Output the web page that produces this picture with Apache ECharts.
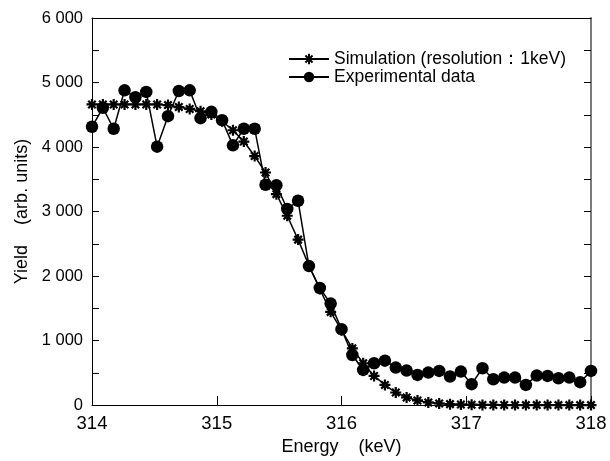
<!DOCTYPE html>
<html>
<head>
<meta charset="utf-8">
<script src="https://cdn.jsdelivr.net/npm/echarts@6/dist/echarts.min.js"></script>
<style>
html,body{margin:0;padding:0;background:#fff;}
#chart{width:610px;height:461px;}
</style>
</head>
<body>
<div id="chart"></div>
<script>
var energies = [314.000, 314.087, 314.174, 314.261, 314.348, 314.435, 314.522, 314.609, 314.696, 314.783,
  314.870, 314.957, 315.043, 315.130, 315.217, 315.304, 315.391, 315.478, 315.565, 315.652,
  315.739, 315.826, 315.913, 316.000, 316.087, 316.174, 316.261, 316.348, 316.435, 316.522,
  316.609, 316.696, 316.783, 316.870, 316.957, 317.043, 317.130, 317.217, 317.304, 317.391,
  317.478, 317.565, 317.652, 317.739, 317.826, 317.913, 318.000];

var simulation = [4660, 4660, 4660, 4660, 4660, 4660, 4660, 4650, 4620, 4590,
  4555, 4505, 4400, 4260, 4085, 3860, 3605, 3270, 2935, 2565,
  2164, 1800, 1445, 1162, 879, 648, 452, 313, 195, 119,
  72, 41, 26, 15, 10, 6, 3, 2, 1, 0,
  0, 0, 0, 0, 0, 0, 0];

var experimental = [4314, 4607, 4283, 4879, 4771, 4854, 4006, 4478, 4869, 4879,
  4447, 4545, 4416, 4026, 4283, 4283, 3415, 3409, 3039, 3167,
  2155, 1815, 1573, 1177, 776, 545, 648, 689, 581, 535,
  468, 504, 530, 443, 520, 324, 571, 401, 427, 427,
  313, 458, 452, 416, 427, 355, 530];

var seriesNames = ['Simulation (resolution\uFF1A1keV)', 'Experimental data'];
var xTicks = [314, 315, 316, 317, 318];
var yTicks = [0, 1000, 2000, 3000, 4000, 5000, 6000];

function pairs(xs, ys) {
  return xs.map(function (x, i) { return [x, ys[i]]; });
}
function fmtY(v) {
  if (v % 1000 !== 0) return '';
  var s = String(v);
  if (v >= 1000) s = s.slice(0, s.length - 3) + ' ' + s.slice(s.length - 3);
  return s;
}

var FONT = 'Liberation Sans, Arial, sans-serif';
var star = 'path://M0,5L10,5M5,0L5,10M1.6,1.6L8.4,8.4M8.4,1.6L1.6,8.4';

var chart = echarts.init(document.getElementById('chart'), null, {renderer: 'canvas'});
chart.setOption({
  animation: false,
  backgroundColor: '#fff',
  grid: {left: 92, right: 19, top: 18, bottom: 54, containLabel: false},
  legend: {
    left: 283, top: 45, orient: 'vertical', itemGap: 0,
    itemWidth: 40, itemHeight: 13,
    textStyle: {fontFamily: FONT, fontSize: 17.5, color: '#000'},
    data: seriesNames
  },
  xAxis: [{
    type: 'value', min: xTicks[0], max: xTicks[xTicks.length - 1], interval: 1,
    name: 'Energy    (keV)', nameLocation: 'middle', nameGap: 29,
    nameTextStyle: {fontFamily: FONT, fontSize: 18, color: '#000'},
    axisLine: {show: true, onZero: false, lineStyle: {color: '#000', width: 1}},
    axisTick: {show: true, inside: true, length: 9, lineStyle: {color: '#000'}},
    axisLabel: {fontFamily: FONT, fontSize: 18.5, color: '#000', margin: 9},
    splitLine: {show: false}
  }, {
    type: 'value', position: 'top', min: xTicks[0], max: xTicks[xTicks.length - 1], interval: 1,
    axisLine: {show: true, onZero: false, lineStyle: {color: '#000', width: 1}},
    axisTick: {show: false}, axisLabel: {show: false}, splitLine: {show: false}
  }],
  yAxis: [{
    type: 'value', min: yTicks[0], max: yTicks[yTicks.length - 1], interval: 500,
    name: 'Yield    (arb. units)', nameLocation: 'middle', nameGap: 61,
    nameTextStyle: {fontFamily: FONT, fontSize: 18, color: '#000'},
    axisLine: {show: true, onZero: false, lineStyle: {color: '#000', width: 1}},
    axisTick: {show: true, inside: true, length: 7, lineStyle: {color: '#000'}},
    axisLabel: {fontFamily: FONT, fontSize: 16.5, color: '#000', margin: 9, formatter: fmtY},
    splitLine: {show: false}
  }, {
    type: 'value', position: 'right', min: yTicks[0], max: yTicks[yTicks.length - 1], interval: 500,
    axisLine: {show: true, onZero: false, lineStyle: {color: '#7a7a7a', width: 2}},
    axisTick: {show: true, inside: true, length: 7, lineStyle: {color: '#000'}},
    axisLabel: {show: false}, splitLine: {show: false}
  }],
  series: [{
    name: seriesNames[0], type: 'line', data: pairs(energies, simulation),
    symbol: star, symbolSize: 11, symbolKeepAspect: true,
    lineStyle: {color: '#000', width: 1.5},
    itemStyle: {color: '#000', borderColor: '#000', borderWidth: 2.2},
    z: 2
  }, {
    name: seriesNames[1], type: 'line', data: pairs(energies, experimental),
    symbol: 'circle', symbolSize: 12.5,
    lineStyle: {color: '#000', width: 1.5},
    itemStyle: {color: '#000', borderWidth: 0},
    z: 3
  }]
});
</script>
</body>
</html>
